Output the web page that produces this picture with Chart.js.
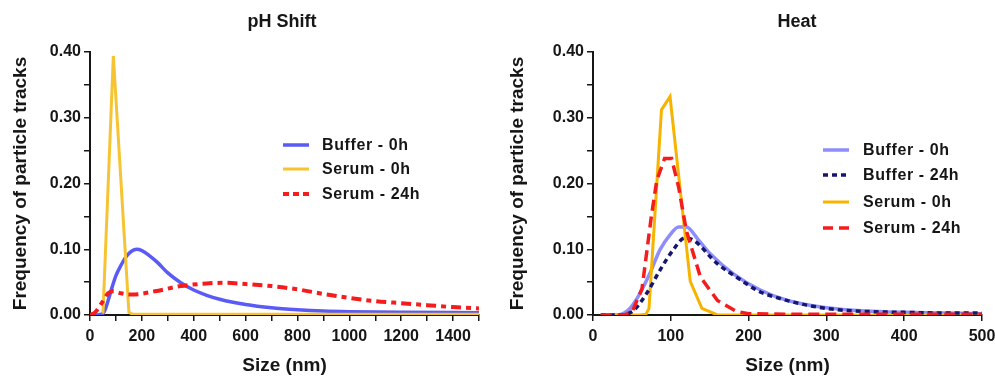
<!DOCTYPE html>
<html>
<head>
<meta charset="utf-8">
<script src="https://cdn.jsdelivr.net/npm/chart.js@4.4.1/dist/chart.umd.min.js"></script>
<style>
  html, body { margin: 0; padding: 0; background: #fff; overflow: hidden; }
  #wrap { position: relative; width: 995px; height: 377px; overflow: hidden; }
  canvas { position: absolute; top: 0; }
  #phChart { left: 0; }
  #heatChart { left: 497px; }
</style>
</head>
<body>
<div id="wrap">
  <canvas id="phChart" width="497" height="377"></canvas>
  <canvas id="heatChart" width="510" height="377"></canvas>
</div>
<script>
'use strict'

// pH Shift panel
const phBufferSize = [0, 20, 40, 55, 70, 85, 100, 120, 140, 160, 180, 200, 230, 260, 300, 350, 400, 450, 500, 600, 700, 800, 900, 1000, 1200, 1500];
const phBuffer0h = [0, 0, 0.001, 0.005, 0.022, 0.042, 0.06, 0.076, 0.089, 0.097, 0.1, 0.098, 0.09, 0.08, 0.064, 0.049, 0.038, 0.03, 0.024, 0.016, 0.011, 0.008, 0.006, 0.005, 0.004, 0.0035];
const phSerum0Size = [50, 90, 150, 165, 1500];
const phSerum0h = [0.002, 0.394, 0.004, 0.001, 0.001];
const phSerum24Size = [0, 20, 45, 70, 90, 120, 160, 250, 350, 450, 520, 600, 700, 800, 900, 1000, 1100, 1200, 1300, 1400, 1500];
const phSerum24h = [0, 0.004, 0.018, 0.033, 0.036, 0.033, 0.031, 0.036, 0.044, 0.048, 0.049, 0.047, 0.044, 0.039, 0.032, 0.026, 0.021, 0.018, 0.015, 0.012, 0.01];

// Heat panel
const heatBuffer0Size = [10, 30, 45, 58, 73, 86, 99, 110, 120, 135, 150, 180, 215, 250, 300, 350, 400, 450, 500];
const heatBuffer0h = [0, 0, 0.007, 0.028, 0.063, 0.099, 0.122, 0.134, 0.134, 0.115, 0.094, 0.063, 0.038, 0.022, 0.011, 0.006, 0.004, 0.003, 0.002];
const heatBuffer24Size = [10, 30, 50, 69, 86, 103, 118, 129, 159, 189, 215, 232, 275, 318, 360, 400, 450, 500];
const heatBuffer24h = [0, 0, 0.005, 0.033, 0.068, 0.099, 0.117, 0.114, 0.079, 0.054, 0.035, 0.028, 0.015, 0.0076, 0.005, 0.004, 0.003, 0.003];
const heatSerum0Size = [10, 60, 68, 72, 88, 99, 125, 140, 160, 500];
const heatSerum0h = [0, 0, 0.001, 0.01, 0.312, 0.332, 0.051, 0.01, 0, 0];
const heatSerum24Size = [10, 40, 50, 63, 75, 82, 92, 101, 110, 120, 138, 160, 185, 200, 250, 500];
const heatSerum24h = [0, 0, 0.004, 0.04, 0.15, 0.205, 0.238, 0.238, 0.195, 0.128, 0.058, 0.022, 0.005, 0.002, 0.001, 0.001];

const yTicks = [0, 0.1, 0.2, 0.3, 0.4];
const phXTicks = [0, 200, 400, 600, 800, 1000, 1200, 1400];
const heatXTicks = [0, 100, 200, 300, 400, 500];

const FONT = '"Liberation Sans", Arial, Helvetica, sans-serif';
const INK = '#161616';

function pairs(xs, ys) {
    return xs.map((x, i) => ({ x: x, y: ys[i] }));
}

function near(list, v) {
    return list.some(t => Math.abs(t - v) < 1e-6);
}

const panelText = {
    id: 'panelText',
    afterDraw(chart, args, opts) {
        const ctx = chart.ctx;
        ctx.save();
        ctx.fillStyle = INK;
        ctx.textBaseline = 'middle';
        ctx.textAlign = 'center';
        ctx.font = `bold 18px ${FONT}`;
        ctx.fillText(opts.title, opts.titleX, opts.titleY);

        ctx.font = `bold 16px ${FONT}`;
        ctx.textAlign = 'left';
        if ('letterSpacing' in ctx) ctx.letterSpacing = '0.6px';
        chart.data.datasets.forEach((ds, i) => {
            const y = opts.rows[i];
            ctx.strokeStyle = ds.borderColor;
            ctx.lineWidth = ds.borderWidth;
            ctx.lineCap = 'butt';
            ctx.setLineDash(ds.legendDash || []);
            ctx.beginPath();
            ctx.moveTo(opts.lineX, y);
            ctx.lineTo(opts.lineX + 26, y);
            ctx.stroke();
            ctx.fillText(ds.label, opts.textX, y + 1);
        });
        ctx.restore();
    }
};

function axisOptions(xMax, xStep, xLabels, yWidth) {
    return {
        x: {
            type: 'linear',
            min: 0,
            max: xMax,
            afterFit: scale => { scale.height = 62; },
            ticks: {
                stepSize: xStep,
                color: INK,
                padding: 6,
                maxRotation: 0,
                minRotation: 0,
                autoSkip: false,
                font: { family: FONT, size: 16, weight: 'bold' },
                callback: v => near(xLabels, v) ? String(v) : ''
            },
            grid: { drawOnChartArea: false, drawTicks: true, tickLength: 6, color: INK, lineWidth: 1.5 },
            border: { display: true, color: INK, width: 2 },
            title: {
                display: true,
                text: 'Size (nm)',
                color: INK,
                font: { family: FONT, size: 19, weight: 'bold' },
                padding: { top: 5, bottom: 0 }
            }
        },
        y: {
            min: 0,
            max: 0.4,
            afterFit: scale => { scale.width = yWidth; },
            ticks: {
                stepSize: 0.05,
                color: INK,
                padding: 3,
                autoSkip: false,
                font: { family: FONT, size: 16, weight: 'bold' },
                callback: v => near(yTicks, v) ? v.toFixed(2) : ''
            },
            grid: { drawOnChartArea: false, drawTicks: true, tickLength: 6, color: INK, lineWidth: 1.5 },
            border: { display: true, color: INK, width: 2 },
            title: {
                display: true,
                text: 'Frequency of particle tracks',
                color: INK,
                font: { family: FONT, size: 19, weight: 'bold' },
                padding: { top: 9, bottom: 0 }
            }
        }
    };
}

const phChart = new Chart(document.getElementById('phChart'), {
    type: 'line',
    data: {
        datasets: [
            {
                label: 'Buffer - 0h',
                data: pairs(phBufferSize, phBuffer0h),
                borderColor: '#5a5af6',
                borderWidth: 3.5,
                cubicInterpolationMode: 'monotone',
                order: 3
            },
            {
                label: 'Serum - 0h',
                data: pairs(phSerum0Size, phSerum0h),
                borderColor: '#f6c433',
                borderWidth: 3,
                tension: 0,
                order: 2
            },
            {
                label: 'Serum - 24h',
                data: pairs(phSerum24Size, phSerum24h),
                borderColor: '#f41c1c',
                borderWidth: 4,
                borderDash: [10, 5, 5, 5],
                legendDash: [6, 4],
                cubicInterpolationMode: 'monotone',
                order: 1
            }
        ]
    },
    options: {
        responsive: false,
        animation: false,
        devicePixelRatio: 1,
        layout: { padding: { top: 52, right: 18, left: 0, bottom: 0 } },
        elements: { point: { radius: 0 } },
        plugins: {
            legend: { display: false },
            tooltip: { enabled: false },
            panelText: { title: 'pH Shift', titleX: 282, titleY: 22, lineX: 283, textX: 322, rows: [145, 169, 194] }
        },
        scales: axisOptions(1500, 100, phXTicks, 90)
    },
    plugins: [panelText]
});

const heatChart = new Chart(document.getElementById('heatChart'), {
    type: 'line',
    data: {
        datasets: [
            {
                label: 'Buffer - 0h',
                data: pairs(heatBuffer0Size, heatBuffer0h),
                borderColor: '#8e8efa',
                borderWidth: 3.5,
                cubicInterpolationMode: 'monotone',
                order: 4
            },
            {
                label: 'Buffer - 24h',
                data: pairs(heatBuffer24Size, heatBuffer24h),
                borderColor: '#16166f',
                borderWidth: 3.5,
                borderDash: [5, 4],
                legendDash: [5, 4],
                cubicInterpolationMode: 'monotone',
                order: 2
            },
            {
                label: 'Serum - 0h',
                data: pairs(heatSerum0Size, heatSerum0h),
                borderColor: '#f6b400',
                borderWidth: 3,
                tension: 0,
                order: 3
            },
            {
                label: 'Serum - 24h',
                data: pairs(heatSerum24Size, heatSerum24h),
                borderColor: '#f41c1c',
                borderWidth: 3.5,
                borderDash: [11, 6],
                legendDash: [10, 6],
                tension: 0,
                order: 1
            }
        ]
    },
    options: {
        responsive: false,
        animation: false,
        devicePixelRatio: 1,
        layout: { padding: { top: 52, right: 25, left: 0, bottom: 0 } },
        elements: { point: { radius: 0 } },
        plugins: {
            legend: { display: false },
            tooltip: { enabled: false },
            panelText: { title: 'Heat', titleX: 300, titleY: 22, lineX: 326, textX: 366, rows: [150, 175, 202, 228] }
        },
        scales: axisOptions(500, 100, heatXTicks, 96)
    },
    plugins: [panelText]
});
</script>
</body>
</html>
